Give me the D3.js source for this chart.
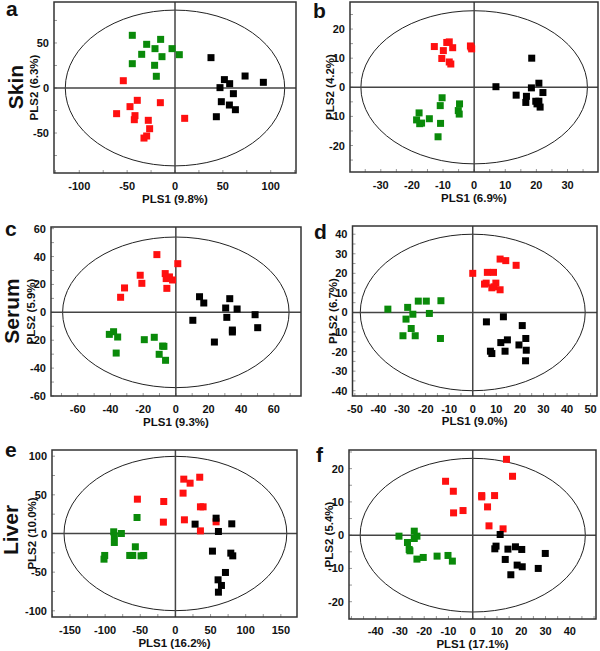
<!DOCTYPE html>
<html>
<head>
<meta charset="utf-8">
<script src="https://cdn.jsdelivr.net/npm/d3@7"></script>
<style>
body { margin: 0; background: #fff; }
text { font-family: "Liberation Sans", Arial, sans-serif; font-weight: bold; fill: #111; }
</style>
</head>
<body>
<svg id="fig" width="600" height="651"></svg>
<script>
// scores, [PLS1, PLS2]
var skinA_green = [[-44.6,58.5],[-29.6,48.5],[-15,54],[-20.9,43.7],[-3.1,43.7],[4.5,37],[-34.8,37.4],[-13.6,34.8],[-44.6,27],[-21.3,25.2],[-19.5,13]];
var skinA_red = [[-54,8.1],[-39.4,-13.7],[-47,-20.7],[-15.3,-16.3],[-61,-28.5],[-41.8,-30.7],[-42.5,-35.2],[-27.9,-35.9],[10.1,-33.7],[-26.5,-45.2],[-29.6,-53.3],[-32.4,-55.6]];
var skinA_black = [[37.6,33.7],[51.6,9.3],[57.1,4.8],[73.2,13.3],[92.3,6.3],[47,0.4],[61,-6.3],[48.4,-15.2],[56.8,-18.9],[63.1,-24.1],[43.2,-31.9]];

var skinB_red = [[-12.8,14],[-8.8,15.4],[-8,15.6],[-6.9,13.6],[-9.9,12.6],[-10.4,9.9],[-8,8.7],[-7.5,8],[-1.2,14.2],[-0.8,13.2],[-1,13.8]];
var skinB_green = [[-10.3,-3.6],[-4.7,-5.7],[-10.9,-6.3],[-5.1,-8],[-4.8,-9.2],[-17.7,-8.8],[-14.4,-10.8],[-18.5,-11.2],[-17.5,-12.5],[-16.9,-12.3],[-10.8,-12.4],[-11.6,-17]];
var skinB_black = [[18.5,10],[7,0.2],[18.4,-0.2],[20.8,1.4],[22.1,-1.8],[13.5,-2.7],[16.8,-3.1],[16.6,-5.2],[19.8,-4.8],[20.8,-4.8],[20.2,-5.7],[21.2,-6.8]];

var serumC_red = [[-11.6,41.4],[1.2,34.9],[-21.8,26.6],[-6.5,27.8],[-20.8,20.8],[-5.9,24.2],[-3.9,25.4],[-2,23.2],[-5.5,17.2],[-31.4,17.5],[-33.8,10.8]];
var serumC_black = [[14.5,11.2],[17.1,6.7],[33,9.8],[30.5,3.1],[37.5,2.4],[31.2,-3.6],[48.5,-1.7],[10.4,-5.7],[34.6,-12.7],[34.6,-14.1],[50.1,-11],[23.6,-21.3]];
var serumC_green = [[-40.7,-15.8],[-38.1,-13.9],[-35.6,-17.7],[-36.5,-29.2],[-19.3,-19.6],[-13.2,-17.9],[-8.1,-24.2],[-7.3,-24.4],[-10.2,-30.1],[-6.3,-34.4]];

var serumD_red = [[0,20],[6.2,20.5],[8.8,20.5],[11.6,27.3],[14,26.5],[18.4,24.1],[5,14.5],[5.7,15],[9.8,15],[8.1,12.6],[9,13.1],[11.6,11.6]];
var serumD_green = [[-36,1.7],[-27.6,2.6],[-23.1,5.8],[-19.7,5.8],[-13.5,6],[-25.4,-0.9],[-18.4,-0.5],[-28.3,-3.4],[-26.1,-8.2],[-29.6,-11.9],[-24.4,-11.9],[-13.7,-13.3]];
var serumD_black = [[5.8,-4.8],[13,-2.2],[21,-6.7],[11.9,-15.4],[14.7,-14],[22.5,-13.3],[19.6,-16.6],[7.5,-19.8],[8.1,-21],[13.7,-19.8],[22.7,-19.3],[22.4,-24.7]];

var liverE_red = [[-54.1,44.4],[-16.6,41.4],[-17.1,14.7],[11.9,70.3],[20.9,65.1],[34.6,72.8],[10.9,52.2],[35.6,34.5],[39.4,34.5],[12.8,17.7],[57.9,15.1],[35.6,3.4]];
var liverE_black = [[28,12.1],[57.9,19.8],[80.2,12.5],[61.2,2.6],[52.7,-22.8],[78.8,-25.4],[81.6,-28.9],[71.2,-50.4],[60.7,-59.9],[65.5,-67.2],[61.2,-75.9]];
var liverE_green = [[-54.6,20.7],[-87.8,2.2],[-76.9,0],[-86.9,-3],[-86.9,-11.6],[-57,-17.2],[-65,-28.4],[-60.7,-28.4],[-48.9,-28.9],[-45.1,-28.4],[-100.6,-28.4],[-101.6,-33.2]];

var liverF_red = [[13.9,22.8],[16.4,17.7],[-11.2,16.2],[-8,13.2],[3.7,11.9],[3.7,11.5],[9,11.9],[-7.9,6.7],[-4,7.4],[6.1,8.5],[6.7,2.8],[12.5,1.9]];
var liverF_black = [[11.3,0.2],[9.6,-3.3],[9.1,-4.1],[14.5,-4.2],[17.6,-3.5],[20.2,-4.3],[29.9,-5.5],[13.4,-7.3],[18.3,-9],[20.4,-9.5],[27,-10],[15.7,-11.9]];
var liverF_green = [[-24.1,1.2],[-30.4,-0.3],[-23,-0.3],[-24.1,-1],[-26.9,-2.2],[-26.2,-4.3],[-25.9,-4.7],[-23,-7.2],[-20.4,-6.7],[-14.7,-6.3],[-10.2,-6.1],[-8.4,-7.8]];

// Hotelling ellipse semi-axes in data units
var ellipseA = [114.6, 86.5], ellipseB = [36.4, 26.3], ellipseC = [69.3, 54];
var ellipseD = [47.7, 40], ellipseE = [158.5, 99.8], ellipseF = [46.4, 23.1];

var panelLetters = ['a','b','c','d','e','f'];
var rowNames = ['Skin','Serum','Liver'];
var xTitles = ['PLS1 (9.8%)','PLS1 (6.9%)','PLS1 (9.3%)','PLS1 (9.0%)','PLS1 (16.2%)','PLS1 (17.1%)'];
var yTitles = ['PLS2 (6.3%)','PLS2 (4.2%)','PLS2 (5.9%)','PLS2 (6.7%)','PLS2 (10.0%)','PLS2 (5.4%)'];

var colGreen = '#0a8a0a', colRed = '#ff1010', colBlack = '#000';

// box = [left, top, right, bottom] in px; letter = [x, baseline]; tkY / xtY = tick label / x-title baseline offsets
var panels = [
  {box:[54,2,296,173], xd:[-126.4,126.4], yd:[-94.4,95.5], xt:d3.range(-100,101,50), yt:[-50,0,50], xm:25, ym:25,
   ell:ellipseA, letter:[6,16], tkY:17, xtY:30, sets:[[skinA_green,colGreen],[skinA_red,colRed],[skinA_black,colBlack]]},
  {box:[350,2,598,172], xd:[-39.9,39.8], yd:[-29.1,29.3], xt:d3.range(-30,31,10), yt:d3.range(-20,21,10), xm:5, ym:5,
   ell:ellipseB, letter:[313,18], tkY:17, xtY:30, sets:[[skinB_red,colRed],[skinB_green,colGreen],[skinB_black,colBlack]]},
  {box:[51,227,301,396], xd:[-76.4,76.6], yd:[-60,61.2], xt:d3.range(-60,61,20), yt:d3.range(-60,61,20), xm:10, ym:10,
   ell:ellipseC, letter:[5,236], tkY:17, xtY:30, sets:[[serumC_red,colRed],[serumC_black,colBlack],[serumC_green,colGreen]]},
  {box:[352.5,226,597,396], xd:[-51,52.7], yd:[-42.7,44.2], xt:d3.range(-50,51,10), yt:d3.range(-40,41,10), xm:5, ym:5,
   ell:ellipseD, letter:[314,239], tkY:17, xtY:29, sets:[[serumD_red,colRed],[serumD_green,colGreen],[serumD_black,colBlack]]},
  {box:[52,450,297,617], xd:[-175.6,173], yd:[-108,108], xt:d3.range(-150,151,50), yt:d3.range(-100,101,50), xm:25, ym:25,
   ell:ellipseE, letter:[5,457], tkY:17, xtY:29.5, sets:[[liverE_red,colRed],[liverE_black,colBlack],[liverE_green,colGreen]]},
  {box:[349,450,596,619], xd:[-51,50.8], yd:[-25.2,25.6], xt:d3.range(-40,41,10), yt:d3.range(-20,21,10), xm:5, ym:5,
   ell:ellipseF, letter:[316,462], tkY:16, xtY:28.5, sets:[[liverF_red,colRed],[liverF_black,colBlack],[liverF_green,colGreen]]}
];

var svg = d3.select('#fig');

panels.forEach(function(p, i) {
  var L = p.box[0], T = p.box[1], R = p.box[2], B = p.box[3];
  var x = d3.scaleLinear().domain(p.xd).range([L, R]);
  var y = d3.scaleLinear().domain(p.yd).range([B, T]);
  var g = svg.append('g');

  // small inward ticks
  var xMinor = d3.range(Math.ceil(p.xd[0] / p.xm) * p.xm, p.xd[1], p.xm);
  var yMinor = d3.range(Math.ceil(p.yd[0] / p.ym) * p.ym, p.yd[1], p.ym);
  g.selectAll('.xtk').data(xMinor).enter().append('line')
    .attr('x1', d => x(d)).attr('x2', d => x(d)).attr('y1', B).attr('y2', B - 3)
    .attr('stroke', '#999').attr('stroke-width', 1);
  g.selectAll('.ytk').data(yMinor).enter().append('line')
    .attr('y1', d => y(d)).attr('y2', d => y(d)).attr('x1', L).attr('x2', L + 3)
    .attr('stroke', '#999').attr('stroke-width', 1);

  // ellipse
  g.append('ellipse')
    .attr('cx', x(0)).attr('cy', y(0))
    .attr('rx', x(p.ell[0]) - x(0)).attr('ry', y(0) - y(p.ell[1]))
    .attr('fill', 'none').attr('stroke', '#222').attr('stroke-width', 1);

  // zero lines
  g.append('line').attr('x1', x(0)).attr('x2', x(0)).attr('y1', T).attr('y2', B)
    .attr('stroke', '#444').attr('stroke-width', 1.5);
  g.append('line').attr('x1', L).attr('x2', R).attr('y1', y(0)).attr('y2', y(0))
    .attr('stroke', '#444').attr('stroke-width', 1.5);

  // points
  var s = 7;
  p.sets.forEach(function(set) {
    g.selectAll(null).data(set[0]).enter().append('rect')
      .attr('x', d => x(d[0]) - s / 2).attr('y', d => y(d[1]) - s / 2)
      .attr('width', s).attr('height', s)
      .attr('fill', set[1]);
  });

  // frame
  g.append('rect').attr('x', L).attr('y', T).attr('width', R - L).attr('height', B - T)
    .attr('fill', 'none').attr('stroke', '#333').attr('stroke-width', 1.5);

  // tick labels
  g.selectAll('.xl').data(p.xt).enter().append('text')
    .attr('x', d => x(d)).attr('y', B + p.tkY)
    .attr('text-anchor', 'middle').attr('font-size', 11)
    .text(d => d);
  g.selectAll('.yl').data(p.yt).enter().append('text')
    .attr('x', L - 5).attr('y', d => y(d) + 4)
    .attr('text-anchor', 'end').attr('font-size', 11)
    .text(d => d);

  // axis titles
  g.append('text').attr('x', (L + R) / 2).attr('y', B + p.xtY)
    .attr('text-anchor', 'middle').attr('font-size', 11.5).text(xTitles[i]);
  g.append('text')
    .attr('transform', 'translate(' + (L - 16) + ',' + ((T + B) / 2) + ') rotate(-90)')
    .attr('text-anchor', 'middle').attr('font-size', 11.5).text(yTitles[i]);

  // panel letter
  g.append('text').attr('x', p.letter[0]).attr('y', p.letter[1])
    .attr('font-size', 21).text(panelLetters[i]);
});

// row labels, rotated; baseline x and centre y
var rowBase = [23, 19, 18];
var rowCenters = [87, 311, 530];
rowNames.forEach(function(name, r) {
  svg.append('text')
    .attr('transform', 'translate(' + rowBase[r] + ',' + rowCenters[r] + ') rotate(-90)')
    .attr('text-anchor', 'middle').attr('font-size', 21).text(name);
});
</script>
</body>
</html>
